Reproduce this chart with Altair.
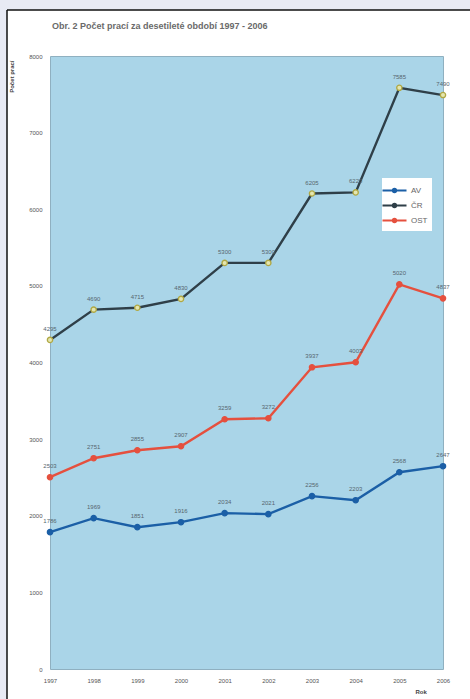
import altair as alt
import pandas as pd

# Počet prací 1997-2006
years = [1997, 1998, 1999, 2000, 2001, 2002, 2003, 2004, 2005, 2006]
series_names = ["AV", "ČR", "OST"]
av = [1786, 1969, 1851, 1916, 2034, 2021, 2256, 2203, 2568, 2647]
cr = [4295, 4690, 4715, 4830, 5300, 5300, 6205, 6220, 7585, 7490]
ost = [2503, 2751, 2855, 2907, 3259, 3272, 3937, 4003, 5020, 4837]
y_ticks = [0, 1000, 2000, 3000, 4000, 5000, 6000, 7000, 8000]

line_colors = ["#1b5fa6", "#2f3f48", "#e5503e"]
marker_fill = ["#1b5fa6", "#e4e6b0", "#e5503e"]
marker_stroke = ["#1b5fa6", "#b0a844", "#e5503e"]

rows = []
for name, vals in zip(series_names, [av, cr, ost]):
    for yr, v in zip(years, vals):
        rows.append({"rok": str(yr), "serie": name, "pocet": v})
df = pd.DataFrame(rows)

W, H = 393, 613

x_enc = alt.X(
    "rok:O",
    scale=alt.Scale(padding=0),
    axis=alt.Axis(
        title="Rok", labelAngle=0, labelFontSize=6, labelColor="#555",
        labelPadding=8, ticks=False, domain=False,
        titleFontSize=6, titleColor="#444", titleFontWeight="bold",
        titleX=365, titleY=19, titleAnchor="start",
    ),
)
y_enc = alt.Y(
    "pocet:Q",
    scale=alt.Scale(domain=[0, 8000], nice=False),
    axis=alt.Axis(
        title="Počet prací", values=y_ticks, format="d", labelFontSize=6, labelColor="#555",
        labelPadding=8, ticks=False, domain=False, grid=False,
        titleFontSize=6, titleColor="#444", titleFontWeight="bold",
        titleAngle=-90, titleX=-36, titleY=4, titleAlign="right", titleBaseline="bottom",
    ),
)

color_scale = alt.Scale(domain=series_names, range=line_colors)

lines = alt.Chart(df).mark_line(strokeWidth=2.4).encode(
    x=x_enc,
    y=y_enc,
    color=alt.Color(
        "serie:N",
        scale=color_scale,
        legend=alt.Legend(
            title=None, orient="none", legendX=332, legendY=122,
            fillColor="#ffffff", padding=4, labelFontSize=8, labelColor="#666",
            symbolType="M-1.6,0L1.6,0M-0.22,0A0.22,0.22,0,1,1,0.22,0A0.22,0.22,0,1,1,-0.22,0",
            symbolSize=225, symbolStrokeWidth=2, rowPadding=0, labelOffset=8,
        ),
    ),
)

points = alt.Chart(df).mark_point(filled=False, size=28, strokeWidth=1.3, opacity=1).encode(
    x="rok:O",
    y="pocet:Q",
    fill=alt.Fill("serie:N", scale=alt.Scale(domain=series_names, range=marker_fill), legend=None),
    stroke=alt.Stroke("serie:N", scale=alt.Scale(domain=series_names, range=marker_stroke), legend=None),
)

labels = alt.Chart(df).mark_text(fontSize=6, dy=-11, color="#56666f").encode(
    x="rok:O",
    y="pocet:Q",
    text="pocet:Q",
)

# page frame and margin of the scanned sheet
frame_df = pd.DataFrame({"k": [0]})
margin_left = alt.Chart(frame_df).mark_rect(color="#e8eaf4").encode(
    x=alt.value(-50), x2=alt.value(-43), y=alt.value(-56), y2=alt.value(643)
)
margin_top = alt.Chart(frame_df).mark_rect(color="#e8eaf4").encode(
    x=alt.value(-50), x2=alt.value(420), y=alt.value(-56), y2=alt.value(-46)
)
frame_left = alt.Chart(frame_df).mark_rule(color="#111", strokeWidth=1.5).encode(
    x=alt.value(-43), y=alt.value(-46), y2=alt.value(643)
)
frame_top = alt.Chart(frame_df).mark_rule(color="#111", strokeWidth=1.5).encode(
    x=alt.value(-43), x2=alt.value(420), y=alt.value(-46)
)

chart = alt.layer(
    margin_left, margin_top, frame_left, frame_top, lines, points, labels
).resolve_scale(
    fill="independent", stroke="independent"
).properties(
    width=W,
    height=H,
    title=alt.Title(
        "Obr. 2  Počet prací za desetileté období 1997 - 2006",
        anchor="start", frame="group", fontSize=9, fontWeight="bold", color="#6a6a6a",
        offset=-31, dx=2,
    ),
    autosize=alt.AutoSizeParams(type="none"),
    padding={"left": 50, "top": 56, "right": 27, "bottom": 30},
    background="#ffffff",
).configure_view(
    fill="#aad5e8", stroke="#8fb0c0", strokeWidth=1
)

chart.save("out.html", embed_options={"renderer": "svg", "actions": False})
